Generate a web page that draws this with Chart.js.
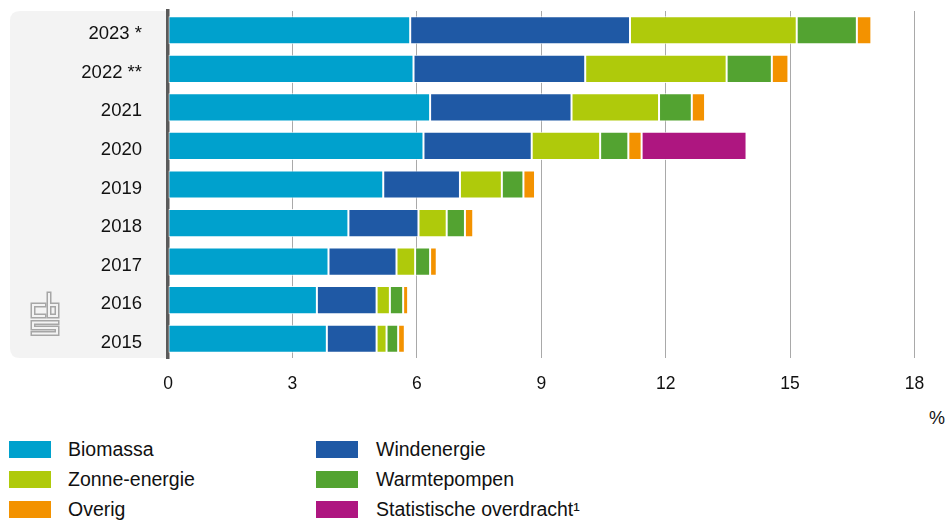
<!DOCTYPE html>
<html>
<head>
<meta charset="utf-8">
<script src="https://cdn.jsdelivr.net/npm/chart.js@4/dist/chart.umd.min.js"></script>
<style>
  body { margin: 0; background: #fff; font-family: "Liberation Sans", Arial, sans-serif; }
  #wrap { position: relative; width: 947px; height: 520px; }
  #chart-box { position: absolute; left: 0; top: 0; width: 947px; height: 400px; }
  #unit { position: absolute; left: 929px; top: 409px; font-size: 18px; line-height: 18px; color: #111; }
  .lg { position: absolute; font-size: 19.5px; color: #111; line-height: 17px; }
  .lg span.box { position: absolute; left: 0; top: 0; width: 42px; height: 17px; }
  .lg span.txt { position: absolute; top: 0; white-space: nowrap; }
</style>
</head>
<body>
<div id="wrap">
  <div id="chart-box"><canvas id="share-chart"></canvas></div>
  <div id="unit">%</div>
  <div id="legend"></div>
</div>
<script>
// Categories (top to bottom)
var years = ["2023 *", "2022 **", "2021", "2020", "2019", "2018", "2017", "2016", "2015"];

// Share of renewable energy per source, %
var biomassa = [5.84, 5.92, 6.32, 6.16, 5.19, 4.35, 3.87, 3.59, 3.83];
var windenergie = [5.30, 4.14, 3.41, 2.61, 1.85, 1.69, 1.64, 1.44, 1.20];
var zonne = [4.02, 3.41, 2.11, 1.65, 1.01, 0.68, 0.45, 0.32, 0.24];
var warmtepompen = [1.45, 1.09, 0.79, 0.68, 0.52, 0.44, 0.36, 0.32, 0.28];
var overig = [0.35, 0.40, 0.32, 0.32, 0.28, 0.20, 0.16, 0.12, 0.16];
var overdracht = [null, null, null, 2.53, null, null, null, null, null];

var seriesNames = ["Biomassa", "Windenergie", "Zonne-energie", "Warmtepompen", "Overig", "Statistische overdracht\u00b9"];
var seriesColors = ["#00a1cd", "#1f59a5", "#afca0b", "#53a331", "#f39200", "#ae1680"];
var seriesData = [biomassa, windenergie, zonne, warmtepompen, overig, overdracht];

// x axis ticks
var xMin = 0, xMax = 18, xStep = 3;

var datasets = seriesNames.map(function (name, i) {
    return {
        label: name,
        data: seriesData[i],
        backgroundColor: seriesColors[i],
        borderColor: "rgba(255,255,255,0.85)",
        borderWidth: 1,
        borderSkipped: false,
        barPercentage: 0.73,
        categoryPercentage: 1
    };
});

// Grey panel behind the year labels + cbs logo
var panelPlugin = {
    id: "panel",
    beforeDraw: function (chart) {
        var ctx = chart.ctx, a = chart.chartArea;
        var x0 = 10, y0 = a.top, x1 = a.left, y1 = a.bottom, r = 10;
        ctx.save();
        ctx.fillStyle = "#f3f3f3";
        ctx.beginPath();
        ctx.moveTo(x1, y0);
        ctx.lineTo(x0 + r, y0);
        ctx.quadraticCurveTo(x0, y0, x0, y0 + r);
        ctx.lineTo(x0, y1 - r);
        ctx.quadraticCurveTo(x0, y1, x0 + r, y1);
        ctx.lineTo(x1, y1);
        ctx.closePath();
        ctx.fill();

        // logo, outlined letters
        var paths = [
            [[44, 305], [33, 305], [33, 316], [44, 316]],
            [[49, 294], [49, 316], [57, 316], [57, 305], [49, 305]],
            [[57, 322.5], [33, 322.5], [33, 328], [57, 328], [57, 333.5], [33, 333.5]]
        ];
        function stroke(w, c) {
            ctx.lineWidth = w;
            ctx.strokeStyle = c;
            ctx.lineJoin = "miter";
            ctx.lineCap = "square";
            paths.forEach(function (p) {
                ctx.beginPath();
                ctx.moveTo(p[0][0], p[0][1]);
                for (var k = 1; k < p.length; k++) ctx.lineTo(p[k][0], p[k][1]);
                ctx.stroke();
            });
        }
        stroke(5, "#a6a6a6");
        stroke(2, "#f3f3f3");
        ctx.restore();
    }
};

var ctx = document.getElementById("share-chart").getContext("2d");
var myChart = new Chart(ctx, {
    type: "bar",
    data: { labels: years, datasets: datasets },
    options: {
        indexAxis: "y",
        responsive: true,
        maintainAspectRatio: false,
        animation: false,
        layout: { padding: { left: 10, right: 32.5, top: 11, bottom: 0 } },
        plugins: {
            legend: { display: false },
            tooltip: { enabled: true }
        },
        scales: {
            x: {
                stacked: true,
                min: xMin,
                max: xMax,
                ticks: {
                    stepSize: xStep,
                    padding: 15.5,
                    color: "#111",
                    font: { family: "Liberation Sans", size: 17.5 }
                },
                grid: { color: "#a9a9a9", lineWidth: 1, drawTicks: false },
                border: { display: false },
                afterFit: function (s) { s.height = 42; }
            },
            y: {
                stacked: true,
                z: 1,
                ticks: {
                    padding: 26,
                    labelOffset: 4,
                    color: "#111",
                    font: { family: "Liberation Sans", size: 18.5 }
                },
                grid: { display: false, drawTicks: false },
                border: { display: true, color: "#5a5a5a", width: 3.5 },
                afterFit: function (s) {
                    s.width = 158;
                    s.paddingTop = 0;
                    s.paddingBottom = 0;
                }
            }
        }
    },
    plugins: [panelPlugin]
});

// Legend, two columns
var legend = document.getElementById("legend");
seriesNames.forEach(function (name, i) {
    var col = i % 2, row = Math.floor(i / 2);
    var d = document.createElement("div");
    d.className = "lg";
    d.style.left = (col === 0 ? 9 : 316) + "px";
    d.style.top = (441 + row * 30) + "px";
    d.innerHTML = '<span class="box" style="background:' + seriesColors[i] + '"></span>' +
        '<span class="txt" style="left:' + (col === 0 ? 59 : 60) + 'px">' + name + '</span>';
    legend.appendChild(d);
});
</script>
</body>
</html>
